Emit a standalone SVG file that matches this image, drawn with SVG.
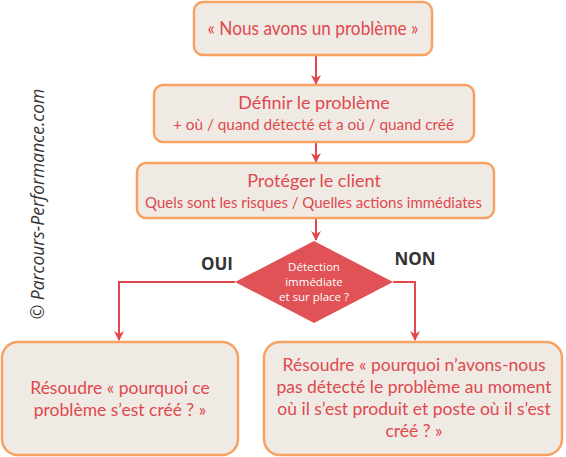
<svg xmlns="http://www.w3.org/2000/svg" width="566" height="457" viewBox="0 0 566 457">
<defs>
<style>
.box{fill:#efebe4;stroke:#f7a262;stroke-width:2.5}
.t{font-family:Lato,"Open Sans",sans-serif;fill:#e0484e;text-anchor:middle}
.conn{fill:none;stroke:#e0484e;stroke-width:2}
.lbl{font-family:"Open Sans","DejaVu Sans",sans-serif;font-weight:bold;fill:#333;font-size:17px}
</style>
<marker id="ah" viewBox="0 0 10 10" refX="9" refY="5" markerWidth="5" markerHeight="5" orient="auto">
<path d="M0,0 L10,5 L0,10 L3,5 z" fill="#e0484e"/>
</marker>
</defs>
<rect width="566" height="457" fill="#ffffff"/>
<text transform="translate(44,204) rotate(-90)" font-family="'Open Sans',sans-serif" font-style="italic" font-size="17.5" fill="#333" text-anchor="middle">© Parcours-Performance.com</text>
<g id="connectors">
<line class="conn" x1="316" y1="55" x2="316" y2="84" marker-end="url(#ah)"/>
<line class="conn" x1="316" y1="143" x2="316" y2="162" marker-end="url(#ah)"/>
<line class="conn" x1="316" y1="219" x2="316" y2="240" marker-end="url(#ah)"/>
<polyline class="conn" points="235,282 119,282 119,340" marker-end="url(#ah)"/>
<polyline class="conn" points="393,282 415,282 415,340" marker-end="url(#ah)"/>
</g>
<g id="n1">
<rect class="box" x="194" y="2" width="238" height="53" rx="9"/>
<text class="t" x="313" y="35" font-size="19" textLength="211" lengthAdjust="spacingAndGlyphs">« Nous avons un problème »</text>
</g>
<g id="n2">
<rect class="box" x="154" y="85" width="320" height="57" rx="9"/>
<text class="t" x="314" y="109" font-size="18">Définir le problème</text>
<text class="t" x="313.5" y="130" font-size="14.5" textLength="281" lengthAdjust="spacingAndGlyphs">+ où / quand détecté et a où / quand créé</text>
</g>
<g id="n3">
<rect class="box" x="137" y="163" width="357" height="55" rx="9"/>
<text class="t" x="314" y="187" font-size="18">Protéger le client</text>
<text class="t" x="313.5" y="208" font-size="14.5" textLength="337" lengthAdjust="spacingAndGlyphs">Quels sont les risques / Quelles actions immédiates</text>
</g>
<g id="n4">
<polygon points="314,241 393,282 314,323 235,282" fill="#e05256"/>
<text font-family="'Open Sans',sans-serif" font-size="11.5" fill="#fff" text-anchor="middle"><tspan x="314" y="271">Détection</tspan><tspan x="314" y="286">immédiate</tspan><tspan x="314" y="301">et sur place ?</tspan></text>
</g>
<text class="lbl" x="217" y="270" text-anchor="middle">OUI</text>
<text class="lbl" x="415" y="265" text-anchor="middle">NON</text>
<g id="n5">
<rect class="box" x="2" y="342" width="236" height="113" rx="16"/>
<text class="t" font-size="17.5"><tspan x="120" y="394">Résoudre « pourquoi ce</tspan><tspan x="120" y="416">problème s’est créé  ? »</tspan></text>
</g>
<g id="n6">
<rect class="box" x="264" y="342" width="298" height="113" rx="16"/>
<text class="t" font-size="17.5"><tspan x="414" y="371">Résoudre « pourquoi n’avons-nous</tspan><tspan x="414" y="393">pas détecté le problème au moment</tspan><tspan x="414" y="415">où il s’est produit et poste  où il s’est</tspan><tspan x="414" y="437">créé ? »</tspan></text>
</g>
</svg>
